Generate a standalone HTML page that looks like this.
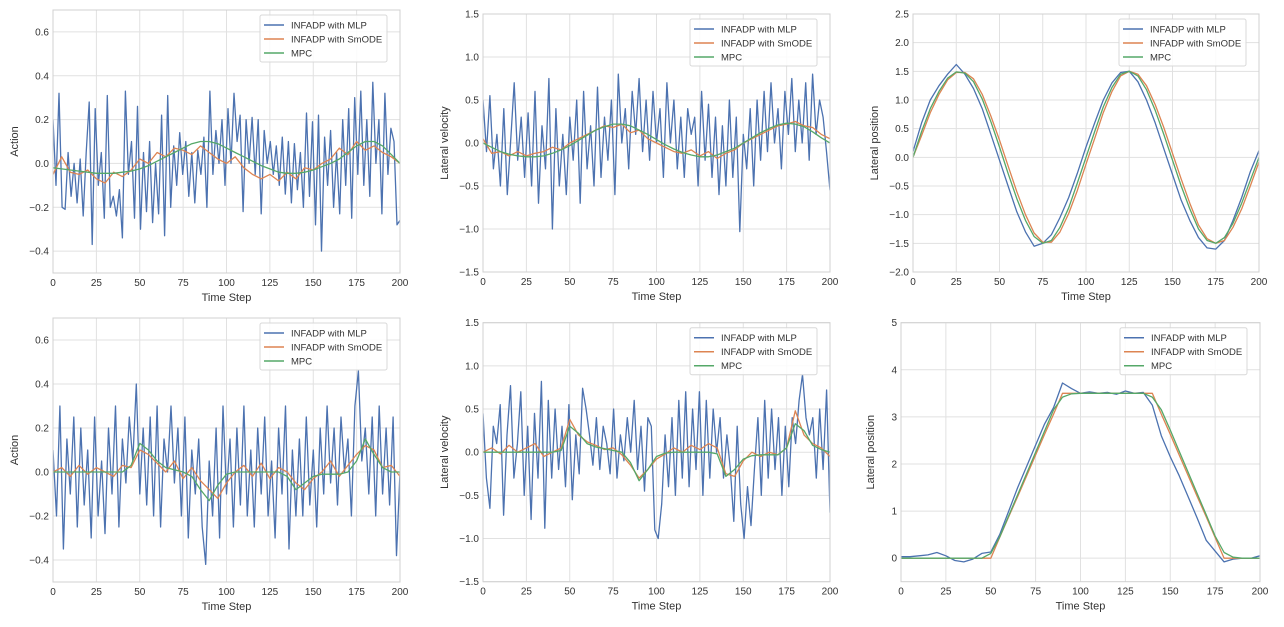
<!DOCTYPE html>
<html><head><meta charset="utf-8">
<style>
body{margin:0;background:#fff;font-family:"Liberation Sans",sans-serif;}
svg text{font-family:"Liberation Sans",sans-serif;fill:#333;}
</style></head>
<body>
<svg id="fig" width="1284" height="622" xmlns="http://www.w3.org/2000/svg"></svg>
<script>
const xTicks=[0,25,50,75,100,125,150,175,200];
const seriesNames=["INFADP with MLP","INFADP with SmODE","MPC"];
// Panel 1: action (sinusoidal)
const p1Mlp=[0.2,-0.1,0.32,-0.2,-0.21,0.05,-0.15,0.0,-0.18,0.02,-0.24,0.05,0.28,-0.37,0.25,-0.1,0.05,-0.25,0.31,-0.2,-0.15,-0.24,-0.12,-0.34,0.33,-0.05,0.1,-0.25,0.26,-0.3,0.05,-0.22,0.1,-0.27,0.0,-0.23,0.22,-0.33,0.31,-0.2,0.08,-0.1,0.14,-0.05,0.1,-0.15,0.05,-0.18,0.06,-0.05,0.12,-0.2,0.33,-0.05,0.15,0.0,0.2,-0.1,0.25,0.0,0.32,0.1,0.22,-0.22,0.2,0.0,0.21,-0.05,0.2,-0.23,0.15,0.0,0.1,-0.05,0.08,-0.1,0.12,-0.14,0.1,-0.18,0.09,-0.12,0.05,-0.2,0.23,-0.15,0.19,-0.28,0.22,-0.4,0.12,-0.1,0.15,-0.2,0.05,-0.23,0.2,-0.1,0.25,-0.25,0.3,-0.05,0.33,-0.1,0.2,-0.15,0.37,0.0,0.2,-0.23,0.32,-0.05,0.16,0.1,-0.28,-0.26];
const p1Smode=[-0.05,0.03,-0.04,-0.05,-0.03,-0.07,-0.09,-0.04,-0.06,-0.03,0.02,0.0,0.05,0.03,0.07,0.06,0.04,0.08,0.05,0.02,0.0,0.03,-0.02,-0.05,-0.07,-0.05,-0.08,-0.04,-0.07,-0.02,-0.03,0.0,0.02,0.07,0.04,0.1,0.06,0.08,0.05,0.03,0.0];
const p1Mpc=[-0.02,-0.025,-0.03,-0.035,-0.04,-0.045,-0.045,-0.045,-0.04,-0.035,-0.025,-0.01,0.01,0.03,0.05,0.07,0.09,0.1,0.1,0.09,0.07,0.05,0.03,0.01,-0.01,-0.025,-0.04,-0.045,-0.045,-0.04,-0.03,-0.015,0.0,0.02,0.05,0.08,0.1,0.1,0.08,0.04,0.0];
// Panel 2: lateral velocity (sinusoidal)
const p2Mlp=[0.5,-0.1,0.55,-0.3,0.1,-0.5,0.4,-0.6,0.05,0.7,-0.2,0.3,-0.4,0.35,-0.5,0.6,-0.7,0.2,-0.3,0.75,-1.0,0.4,-0.5,0.1,-0.6,0.3,-0.2,0.5,-0.7,0.6,-0.3,0.2,-0.5,0.65,-0.4,0.3,-0.2,0.5,-0.6,0.8,0.0,0.4,-0.3,0.6,0.1,0.75,-0.1,0.5,-0.2,0.6,0.0,0.4,-0.4,0.7,0.0,0.5,-0.3,0.3,-0.4,0.4,0.1,0.3,-0.5,0.6,-0.2,0.45,-0.4,0.3,-0.6,0.2,-0.5,0.5,-0.4,0.3,-1.03,0.1,-0.3,0.4,-0.5,0.5,-0.2,0.6,-0.1,0.7,0.0,0.4,-0.3,0.6,0.1,0.75,-0.1,0.5,0.0,0.7,-0.2,0.8,0.1,0.5,0.3,-0.1,-0.55];
const p2Smode=[0.05,-0.12,-0.1,-0.15,-0.1,-0.15,-0.12,-0.1,-0.05,-0.08,0.0,0.05,0.1,0.15,0.2,0.18,0.22,0.12,0.15,0.05,0.0,-0.05,-0.1,-0.12,-0.08,-0.15,-0.1,-0.18,-0.12,-0.08,0.0,0.05,0.1,0.15,0.2,0.22,0.25,0.2,0.18,0.1,0.05];
const p2Mpc=[0.0,-0.05,-0.1,-0.13,-0.15,-0.16,-0.16,-0.15,-0.12,-0.08,-0.03,0.03,0.09,0.15,0.19,0.22,0.22,0.2,0.15,0.1,0.04,-0.02,-0.07,-0.11,-0.14,-0.16,-0.16,-0.14,-0.1,-0.06,0.0,0.06,0.12,0.17,0.21,0.23,0.22,0.19,0.13,0.06,0.0];
// Panel 3: lateral position (sinusoidal)
const p3Mlp=[0.1,0.6,1.0,1.25,1.45,1.62,1.45,1.2,0.85,0.4,-0.05,-0.5,-0.95,-1.3,-1.55,-1.5,-1.35,-1.05,-0.7,-0.28,0.18,0.6,1.0,1.3,1.48,1.5,1.32,1.0,0.6,0.15,-0.3,-0.75,-1.1,-1.4,-1.58,-1.6,-1.45,-1.1,-0.7,-0.25,0.12];
const p3Smode=[0.0,0.38,0.78,1.1,1.35,1.48,1.48,1.37,1.1,0.72,0.3,-0.15,-0.6,-1.0,-1.32,-1.48,-1.48,-1.3,-0.98,-0.58,-0.12,0.33,0.78,1.15,1.42,1.5,1.45,1.25,0.92,0.52,0.07,-0.38,-0.8,-1.18,-1.42,-1.5,-1.45,-1.22,-0.9,-0.5,-0.08];
const p3Mpc=[0.0,0.45,0.85,1.15,1.38,1.49,1.47,1.32,1.02,0.62,0.18,-0.28,-0.72,-1.1,-1.38,-1.5,-1.45,-1.22,-0.88,-0.45,0.0,0.45,0.88,1.22,1.45,1.5,1.42,1.18,0.82,0.4,-0.05,-0.5,-0.9,-1.25,-1.45,-1.5,-1.4,-1.15,-0.8,-0.4,0.0];
// Panel 4: action (lane change)
const p4Mlp=[0.1,-0.2,0.3,-0.35,0.15,-0.1,0.25,-0.25,0.2,-0.15,0.1,-0.3,0.25,-0.2,0.05,-0.28,0.2,-0.1,0.3,-0.25,0.15,-0.05,0.25,0.05,0.4,-0.1,0.2,-0.15,0.25,-0.2,0.3,-0.25,0.15,0.0,0.3,-0.05,0.2,-0.2,0.25,-0.3,0.1,-0.1,0.15,-0.25,-0.42,0.05,-0.2,0.2,-0.3,0.3,-0.1,0.15,-0.25,0.2,-0.15,0.3,-0.2,0.1,-0.25,0.2,-0.1,0.25,-0.2,0.05,-0.3,0.2,-0.1,0.3,-0.35,0.1,-0.2,0.15,-0.2,0.25,-0.15,0.1,-0.25,0.2,-0.1,0.3,-0.05,0.2,-0.15,0.25,0.0,0.15,-0.2,0.3,0.46,0.05,0.2,-0.1,0.25,-0.2,0.3,-0.1,0.2,-0.15,0.25,-0.38,0.0];
const p4Smode=[0.0,0.02,-0.02,0.03,-0.01,0.02,0.0,-0.02,0.03,0.02,0.1,0.08,0.04,0.0,0.05,-0.03,0.02,-0.04,-0.08,-0.12,-0.05,0.0,0.03,-0.02,0.04,-0.03,0.02,0.0,-0.05,-0.08,-0.03,0.0,0.05,-0.02,0.03,0.08,0.12,0.1,0.02,0.03,-0.02];
const p4Mpc=[0,0,0,0,0,0,0,0,0,0.03,0.13,0.1,0.05,0.02,0.01,0.0,-0.02,-0.08,-0.13,-0.06,-0.01,0,0,0,0,0,0,-0.02,-0.08,-0.05,-0.02,-0.01,-0.01,-0.01,0.0,0.05,0.15,0.08,0.02,0.0,0.0];
// Panel 5: lateral velocity (lane change)
const p5Mlp=[0.45,-0.3,-0.65,0.3,0.1,0.55,-0.73,0.2,0.77,-0.3,0.1,0.7,-0.5,0.3,-0.78,0.45,-0.3,0.82,-0.88,0.6,-0.3,0.5,-0.2,0.3,-0.4,0.55,-0.55,0.2,-0.25,0.74,0.5,0.2,-0.15,0.4,-0.2,0.3,0.1,-0.25,0.5,-0.3,0.2,-0.1,0.4,0.0,0.6,-0.2,0.3,-0.45,0.4,0.3,-0.9,-1.0,-0.6,0.2,-0.4,0.4,-0.5,0.6,-0.3,0.7,-0.4,0.5,-0.2,0.7,-0.5,0.6,-0.3,0.5,0.0,0.4,-0.3,0.2,-0.2,-0.8,0.3,-0.6,-1.0,-0.4,-0.85,-0.2,0.4,-0.5,0.6,-0.3,0.5,-0.2,0.4,-0.5,0.3,-0.4,0.4,0.1,0.6,0.9,0.4,0.2,0.4,-0.3,0.5,-0.2,0.72,-0.7];
const p5Smode=[0.0,0.05,-0.02,0.08,0.0,0.05,0.1,-0.05,0.0,0.05,0.38,0.2,0.12,0.08,0.03,0.05,-0.03,-0.15,-0.3,-0.2,-0.08,-0.02,0.05,0.0,0.08,0.03,0.1,0.05,-0.25,-0.28,-0.1,0.0,-0.05,0.0,-0.03,0.05,0.48,0.2,0.1,0.05,-0.05];
const p5Mpc=[0,0,0,0,0,0,0,0,0,0.02,0.3,0.22,0.1,0.06,0.04,0.02,0.0,-0.12,-0.33,-0.2,-0.05,-0.01,0,0,0,0,0,-0.02,-0.28,-0.2,-0.08,-0.04,-0.03,-0.03,-0.03,0.05,0.33,0.25,0.08,0.03,0.0];
// Panel 6: lateral position (lane change)
const p6Mlp=[0.03,0.03,0.05,0.07,0.12,0.05,-0.05,-0.08,-0.02,0.1,0.13,0.5,1.0,1.5,1.95,2.4,2.85,3.2,3.72,3.6,3.5,3.53,3.5,3.52,3.48,3.55,3.5,3.52,3.25,2.6,2.15,1.75,1.3,0.85,0.38,0.15,-0.08,-0.02,0.0,0.0,0.05];
const p6Smode=[0,0,0,0,0,0,0,0,0,0,0,0.44,0.88,1.31,1.75,2.19,2.63,3.06,3.5,3.5,3.5,3.5,3.5,3.5,3.5,3.5,3.5,3.5,3.5,3.06,2.63,2.19,1.75,1.31,0.88,0.44,0,0,0,0,0];
const p6Mpc=[0,0,0,0,0,0,0,0,0,0,0.1,0.45,0.9,1.35,1.8,2.25,2.7,3.15,3.42,3.49,3.5,3.5,3.5,3.5,3.5,3.5,3.5,3.5,3.42,3.15,2.72,2.27,1.82,1.37,0.92,0.47,0.12,0.02,0,0,0];
const ticksAction=[-0.4,-0.2,0.0,0.2,0.4,0.6];
const ticksVel=[-1.5,-1.0,-0.5,0.0,0.5,1.0,1.5];
const ticksPos1=[-2.0,-1.5,-1.0,-0.5,0.0,0.5,1.0,1.5,2.0,2.5];
const ticksPos2=[0,1,2,3,4,5];

const NS="http://www.w3.org/2000/svg";
const svg=document.getElementById('fig');
const colors=["#4c72b0","#dd8452","#55a868"];
function mk(tag,attrs,parent){const e=document.createElementNS(NS,tag);for(const k in attrs)e.setAttribute(k,attrs[k]);(parent||svg).appendChild(e);return e;}

function panel(id,L,R,T,B,ymin,ymax,yt,dec,ylabel,ylx,series){
  const g=mk('g',{});
  
  
  const sx=v=>L+(v-0)/(200-0)*(R-L);
  const sy=v=>B-(v-ymin)/(ymax-ymin)*(B-T);
  const grid=mk('g',{},g);
  
  
  xTicks.forEach(t=>{
    mk('line',{x1:sx(t),x2:sx(t),y1:T,y2:B,stroke:'#e1e1e1','stroke-width':1},grid);
    const tx=mk('text',{x:sx(t),y:B+13,'font-size':10,'text-anchor':'middle'},g);
    tx.textContent=t;
    
    
  });
  yt.forEach(t=>{
    mk('line',{x1:L,x2:R,y1:sy(t),y2:sy(t),stroke:'#e1e1e1','stroke-width':1},grid);
    const tx=mk('text',{x:L-4,y:sy(t)+3.5,'font-size':10,'text-anchor':'end'},g);
    tx.textContent=(t<0?'\u2212':'')+Math.abs(t).toFixed(dec);
    
    
  });
  const clip='c'+id;
  const cp=mk('clipPath',{id:clip},g);
  mk('rect',{x:L,y:T,width:R-L,height:B-T},cp);
  const names=['mlp-line','smode-line','mpc-line'];
  series.forEach((arr,si)=>{
    const n=arr.length;
    const pts=arr.map((v,i)=>sx(i*200/(n-1)).toFixed(1)+','+sy(v).toFixed(1)).join(' ');
    const pl=mk('polyline',{points:pts,fill:'none',stroke:colors[si],'stroke-width':1.3,'stroke-linejoin':'round','clip-path':'url(#'+clip+')'},g);
    
    
  });
  const fr=mk('rect',{x:L,y:T,width:R-L,height:B-T,fill:'none',stroke:'#d0d0d0','stroke-width':1},g);
  
  
  const xl=mk('text',{x:(L+R)/2,y:B+28,'font-size':11,'text-anchor':'middle'},g);
  xl.textContent='Time Step';
  
  
  const yl=mk('text',{x:ylx,y:(T+B)/2,'font-size':11,'text-anchor':'middle',transform:'rotate(-90 '+ylx+' '+(T+B)/2+')'},g);
  yl.textContent=ylabel;
  
  
  // legend
  const lg=mk('g',{},g);
  
  
  const lx=R-140,ly=T+5;
  mk('rect',{x:lx,y:ly,width:127,height:47,rx:2,fill:'#fff','fill-opacity':0.85,stroke:'#d8d8d8'},lg);
  seriesNames.forEach((nm,i)=>{
    const yy=ly+10+i*14;
    const le=mk('g',{},lg);
    
    
    mk('line',{x1:lx+4,x2:lx+24,y1:yy,y2:yy,stroke:colors[i],'stroke-width':1.5},le);
    const t=mk('text',{x:lx+31,y:yy+3.5,'font-size':9.5},le);
    t.textContent=nm;
  });
}
panel('panel-action-sine',53,400,10,273,-0.5,0.7,ticksAction,1,'Action',18,[p1Mlp,p1Smode,p1Mpc]);
panel('panel-velocity-sine',483,830,14,272,-1.5,1.5,ticksVel,1,'Lateral velocity',448,[p2Mlp,p2Smode,p2Mpc]);
panel('panel-position-sine',913,1259,14,272,-2.0,2.5,ticksPos1,1,'Lateral position',878,[p3Mlp,p3Smode,p3Mpc]);
panel('panel-action-lane',53,400,318,582,-0.5,0.7,ticksAction,1,'Action',18,[p4Mlp,p4Smode,p4Mpc]);
panel('panel-velocity-lane',483,830,322.7,581.7,-1.5,1.5,ticksVel,1,'Lateral velocity',448,[p5Mlp,p5Smode,p5Mpc]);
panel('panel-position-lane',901,1260,322.7,581.7,-0.5,5,ticksPos2,0,'Lateral position',874,[p6Mlp,p6Smode,p6Mpc]);
</script>
</body></html>
